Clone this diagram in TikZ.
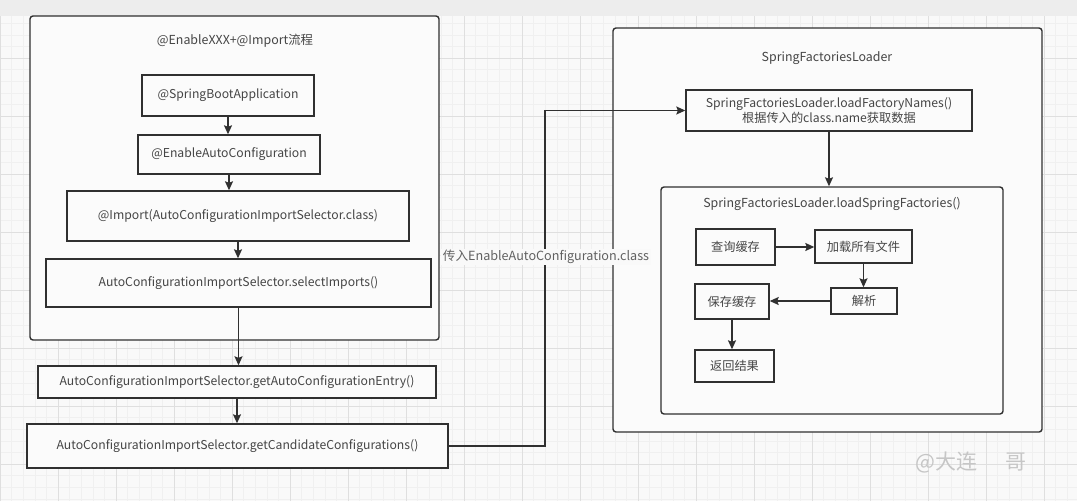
\documentclass[tikz,border=0pt]{standalone}
\usepackage{fontspec}
\setmainfont{Noto Sans CJK SC}
\usetikzlibrary{arrows.meta}

\definecolor{bg}{HTML}{F9F9F9}
\definecolor{band}{HTML}{EDEDED}
\definecolor{gridc}{HTML}{F0F0F0}
\definecolor{ln}{HTML}{303030}
\definecolor{tx}{HTML}{454545}
\definecolor{bx}{HTML}{FBFBFB}

\tikzset{
  arr/.style={draw=ln, line width=1.4pt, -{Stealth[length=9pt, width=8pt, inset=1.5pt]}},
  frame/.style={draw=ln, fill=bx, line width=1.4pt, rounded corners=3pt, inner sep=0pt},
  title/.style={text=tx, font=\fontsize{12.4}{14}\selectfont}
}

\begin{document}
\begin{tikzpicture}[x=1pt, y=-1pt]

        \useasboundingbox (0,0) rectangle (1077,501);
        \fill[bg] (0,0) rectangle (1077,501);
        \draw[gridc, line width=0.4pt, step=11.6pt] (0,16) grid (1077,501);
        \draw[gridc!85!gray, line width=0.5pt, step=58pt] (0,16) grid (1077,501);
        \fill[band] (0,0) rectangle (1077,16);

        \node[frame, minimum width=409, minimum height=324] (L) at (234.5,178) {};
        \node[frame, minimum width=429, minimum height=404] (R) at (827.5,230) {};
        \node[frame, minimum width=342, minimum height=227] (S) at (832,300.5) {};

        \node[title] (tL) at (235,41)  {@EnableXXX+@Import流程};
        \node[title] (tR) at (827,58)  {SpringFactoriesLoader};
        \node[title] (tS) at (832,204) {SpringFactoriesLoader.loadSpringFactories()};

        \begin{scope}[every node/.style={draw=ln, fill=bx, line width=1.4pt, text=tx, inner sep=0pt,
                                         align=center, font=\fontsize{12.2}{15.5}\selectfont}]
          \node[minimum width=172, minimum height=41] (1)  at (228,95.5)   {@SpringBootApplication};
          \node[minimum width=182, minimum height=39] (2)  at (229,154.5)  {@EnableAutoConfiguration};
          \node[minimum width=342, minimum height=50] (3)  at (238,216)    {@Import(AutoConfigurationImportSelector.class)};
          \node[minimum width=385, minimum height=48] (4)  at (238.5,283)  {AutoConfigurationImportSelector.selectImports()};
          \node[minimum width=398, minimum height=32] (5)  at (237,382)    {AutoConfigurationImportSelector.getAutoConfigurationEntry()};
          \node[minimum width=421, minimum height=44] (6)  at (237.5,446)  {AutoConfigurationImportSelector.getCandidateConfigurations()};
          \node[minimum width=286, minimum height=41] (7)  at (829,110.5)  {SpringFactoriesLoader.loadFactoryNames()\\根据传入的class.name获取数据};
          \node[minimum width=79,  minimum height=36] (8)  at (735.5,247)  {查询缓存};
          \node[minimum width=97,  minimum height=33] (9)  at (863.5,246.5) {加载所有文件};
          \node[minimum width=66,  minimum height=26] (10) at (864,301)    {解析};
          \node[minimum width=74,  minimum height=35] (11) at (732,301.5)  {保存缓存};
          \node[minimum width=79,  minimum height=32] (12) at (734.5,366)  {返回结果};
        \end{scope}

        \coordinate (bend) at (545,446);

        \draw[arr] (1.south) -- (1.south |- 2.north);
        \draw[arr] (2.south) -- (2.south |- 3.north);
        \draw[arr] (3.south) -- (3.south |- 4.north);
        \draw[arr] (4.south) -- (4.south |- 5.north);
        \draw[arr] (5.south) -- (5.south |- 6.north);
        \draw[arr] (6.east) -- (bend) |- (7.west);
        \draw[arr] (7.south) -- (7.south |- S.north);
        \draw[arr] (8.east) -- (8.east -| 9.west);
        \draw[arr] (9.south) -- (9.south |- 10.north);
        \draw[arr] (10.west) -- (10.west -| 11.east);
        \draw[arr] (11.south) -- (11.south |- 12.north);

        \node[fill=bg, inner sep=1.5pt, text=tx!85, font=\fontsize{12.6}{14}\selectfont] (lab) at (546,257)
          {传入EnableAutoConfiguration.class};

        \node[text=gray!45, font=\fontsize{21}{24}\selectfont, anchor=west] (wm) at (912,462) {@大连\hspace{28pt}哥};

\end{tikzpicture}
\end{document}
